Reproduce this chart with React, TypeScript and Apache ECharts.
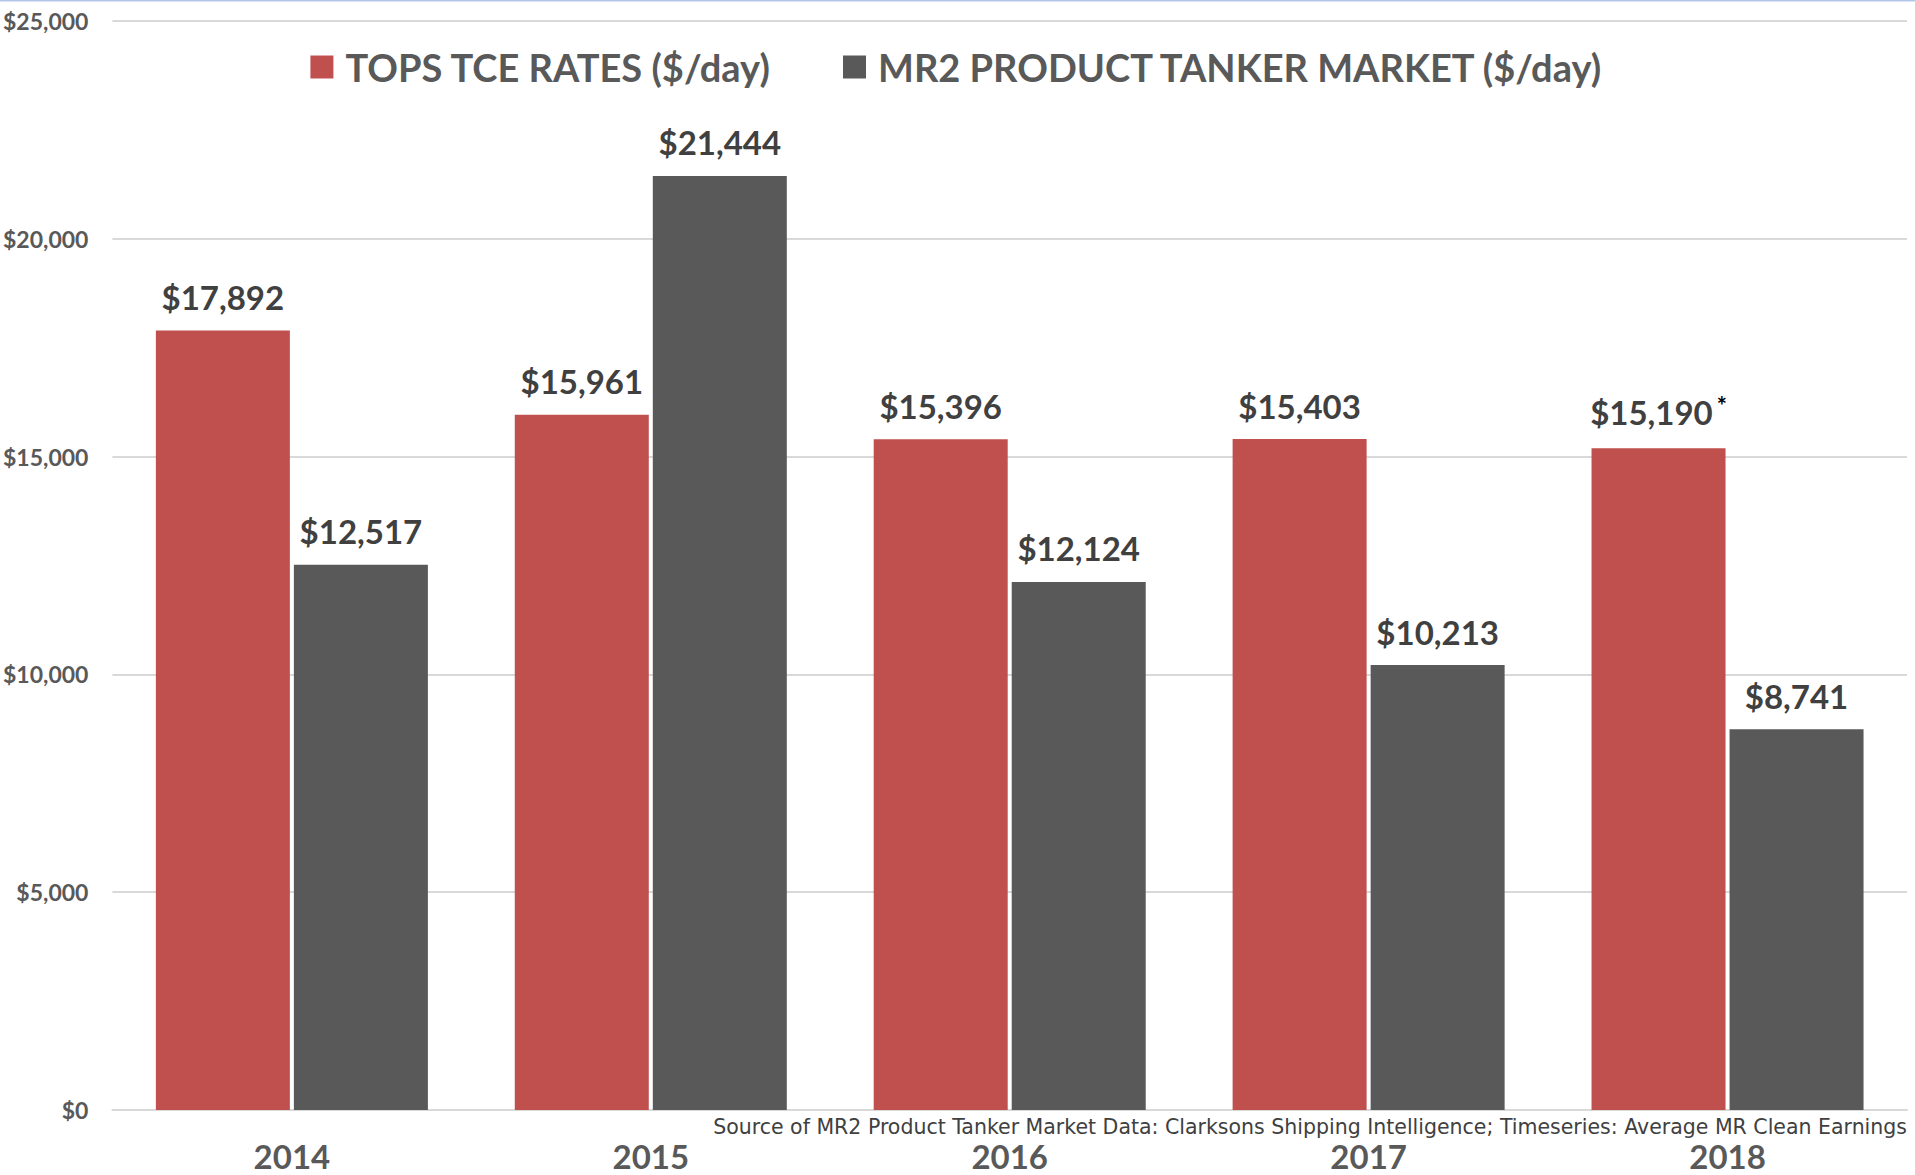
import React, { useEffect, useRef } from "react";
import * as echarts from "echarts";

const years = ["2014", "2015", "2016", "2017", "2018"];
const topsRates = [17892, 15961, 15396, 15403, 15190];
const mr2Market = [12517, 21444, 12124, 10213, 8741];
const topsNotes = ["", "", "", "", "*"];
const seriesNames = ["TOPS TCE RATES ($/day)", "MR2 PRODUCT TANKER MARKET ($/day)"];
const sourceNote =
  "Source of MR2 Product Tanker Market Data: Clarksons Shipping Intelligence; Timeseries: Average MR Clean Earnings";

const FONT = "Lato, 'Open Sans', sans-serif";
const fmt = (v: number) => "$" + v.toLocaleString("en-US");

export default function App() {
  const ref = useRef<HTMLDivElement>(null);
  useEffect(() => {
    if (!ref.current) return;
    const chart = echarts.init(ref.current, null, { renderer: "svg" });
    const labelRich = {
      v: { fontFamily: FONT, fontWeight: "bold", fontSize: 33, color: "#404040" },
      s: { fontFamily: FONT, fontWeight: "bold", fontSize: 24, color: "#000000", verticalAlign: "top", padding: [0, 0, 14, 4] },
    };
    chart.setOption({
      animation: false,
      backgroundColor: "#ffffff",
      textStyle: { fontFamily: FONT },
      legend: {
        top: 43,
        left: "center",
        itemWidth: 23,
        itemHeight: 23,
        itemGap: 72,
        icon: "rect",
        textStyle: { fontFamily: FONT, fontWeight: "bold", fontSize: 38, color: "#595959", padding: [0, 0, 0, 7] },
        data: seriesNames,
      },
      grid: { left: 112, right: 8, top: 21, bottom: 65, containLabel: false },
      xAxis: {
        type: "category",
        data: years,
        axisLine: { show: true, lineStyle: { color: "#d9d9d9", width: 2 } },
        axisTick: { show: false },
        axisLabel: { fontFamily: FONT, fontWeight: "bold", fontSize: 33, color: "#595959", margin: 29, lineHeight: 33 },
      },
      yAxis: {
        type: "value",
        min: 0,
        max: 25000,
        interval: 5000,
        axisLine: { show: false },
        axisTick: { show: false },
        splitLine: { lineStyle: { color: "#d9d9d9", width: 2 } },
        axisLabel: {
          fontFamily: FONT,
          fontWeight: "bold",
          fontSize: 23,
          color: "#595959",
          margin: 24,
          formatter: (v: number) => fmt(v),
        },
      },
      series: [
        {
          name: seriesNames[0],
          type: "bar",
          data: topsRates,
          barWidth: 134,
          barGap: "3%",
          itemStyle: { color: "#C0504D" },
          label: {
            show: true,
            position: "top",
            distance: 17,
            formatter: (p: any) =>
              "{v|" + fmt(p.value) + "}" + (topsNotes[p.dataIndex] ? "{s|" + topsNotes[p.dataIndex] + "}" : ""),
            rich: labelRich,
          },
        },
        {
          name: seriesNames[1],
          type: "bar",
          data: mr2Market,
          barWidth: 134,
          barGap: "3%",
          itemStyle: { color: "#595959" },
          label: {
            show: true,
            position: "top",
            distance: 17,
            formatter: (p: any) => "{v|" + fmt(p.value) + "}",
            rich: labelRich,
          },
        },
      ],
      graphic: [
        {
          type: "line",
          shape: { x1: 0, y1: 0.5, x2: 1915, y2: 0.5 },
          style: { stroke: "#b4c6e7", lineWidth: 2 },
        },
        {
          type: "text",
          right: 8,
          top: 1116,
          style: {
            text: sourceNote,
            fontFamily: "'DejaVu Sans', sans-serif",
            fontSize: 20.5,
            lineHeight: 21,
            fill: "#404040",
          },
        },
      ],
    });
    return () => chart.dispose();
  }, []);
  return <div ref={ref} style={{ width: 1915, height: 1175, position: "absolute", left: 0, top: 0 }} />;
}
